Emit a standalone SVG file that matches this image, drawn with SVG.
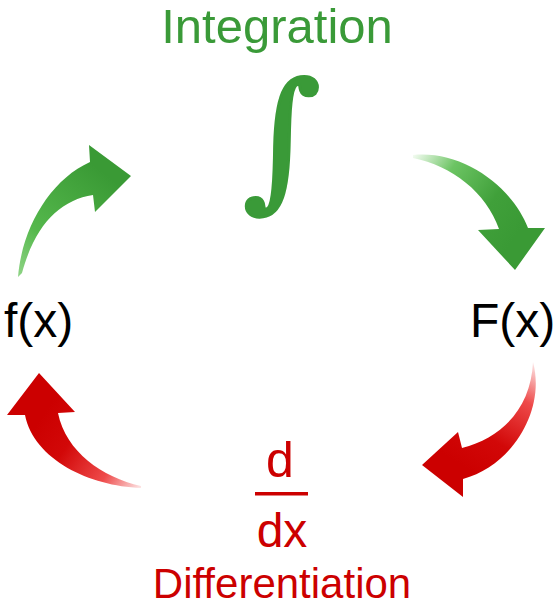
<svg xmlns="http://www.w3.org/2000/svg" width="559" height="609" viewBox="0 0 559 609">
<style>
.lbl{font-family:"Liberation Sans",Arial,sans-serif;}
.green{fill:#3a9a38;}
.red{fill:#cc0000;}
.blk{fill:#000;}
</style>
<defs>
<linearGradient id="g1" gradientUnits="userSpaceOnUse" x1="18" y1="276" x2="100" y2="170">
<stop offset="0" stop-color="#8fd486"/>
<stop offset="0.35" stop-color="#55b84c"/>
<stop offset="1" stop-color="#3a9a35"/>
</linearGradient>
<linearGradient id="g2" gradientUnits="userSpaceOnUse" x1="413" y1="156" x2="520" y2="230">
<stop offset="0" stop-color="#f2fbf0"/>
<stop offset="0.3" stop-color="#6cc463"/>
<stop offset="0.7" stop-color="#40a03a"/>
<stop offset="1" stop-color="#3a9a35"/>
</linearGradient>
<linearGradient id="r1" gradientUnits="userSpaceOnUse" x1="533" y1="362" x2="470" y2="470">
<stop offset="0" stop-color="#fde8e8"/>
<stop offset="0.3" stop-color="#ee4a4a"/>
<stop offset="0.7" stop-color="#d20808"/>
<stop offset="1" stop-color="#cc0000"/>
</linearGradient>
<linearGradient id="r2" gradientUnits="userSpaceOnUse" x1="142" y1="487" x2="40" y2="420">
<stop offset="0" stop-color="#fde8e8"/>
<stop offset="0.3" stop-color="#ee4a4a"/>
<stop offset="0.7" stop-color="#d20808"/>
<stop offset="1" stop-color="#cc0000"/>
</linearGradient>
</defs>

<g id="connectors">
<path id="arrow-fx-to-integration" fill="url(#g1)" d="M18,277 C22,228 50,180 90,162 L89,145 L131,176 L95,212 L93,195 C60,200 35,225 22,273 Z"/>
<path id="arrow-integration-to-Fx" fill="url(#g2)" d="M413,155 C462,150 512,186 528,228 L545,228 L515,270 L478,230 L499,229 C486,192 452,166 413,158 Z"/>
<path id="arrow-Fx-to-differentiation" fill="url(#r1)" d="M533,362 C546,410 512,466 463,479 L463,497 L422,465 L458,432 L462,448 C502,438 531,408 533,362 Z"/>
<path id="arrow-differentiation-to-fx" fill="url(#r2)" d="M141,488 C90,486 34,460 25,415 L7,415 L39,373 L75,412 L58,413 C66,452 102,477 141,486 Z"/>
</g>

<g id="node-integration">
<text class="lbl green" x="277" y="43" font-size="49" text-anchor="middle">Integration</text>
<text class="green" x="282" y="190" font-size="150" text-anchor="middle" font-family="DejaVu Serif, serif" font-style="italic" stroke="#3a9a38" stroke-width="3">∫</text>
</g>

<g id="node-fx">
<text class="lbl blk" x="4" y="337" font-size="48">f(x)</text>
</g>

<g id="node-Fx">
<text class="lbl blk" x="470" y="337" font-size="48">F(x)</text>
</g>

<g id="node-differentiation">
<text class="lbl red" x="280" y="477" font-size="50" text-anchor="middle">d</text>
<rect class="red" x="255" y="492" width="53" height="3.5"/>
<text class="lbl red" x="282" y="547" font-size="48" text-anchor="middle">dx</text>
<text class="lbl red" x="282" y="598" font-size="42" text-anchor="middle">Differentiation</text>
</g>
</svg>
